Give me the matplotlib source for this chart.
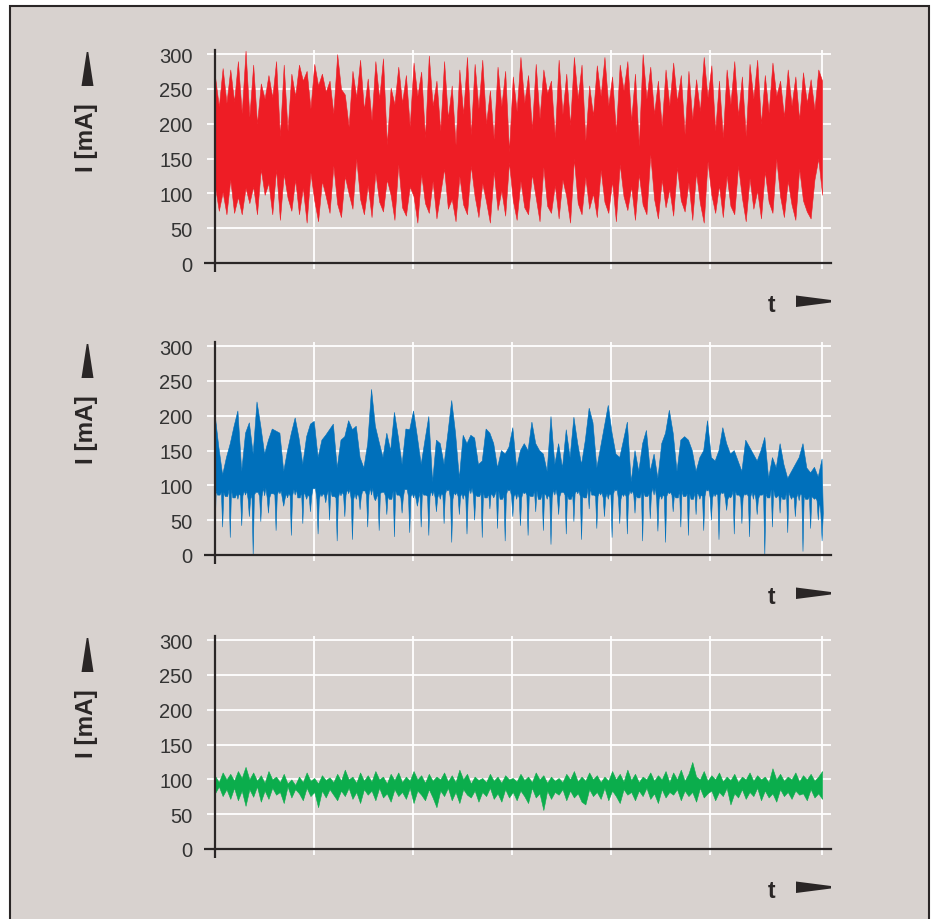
import numpy as np
import matplotlib
matplotlib.use("Agg")
import matplotlib.pyplot as plt
from matplotlib.patches import Polygon, Rectangle

# envelope values (mA), left to right
red_upper = [
    268, 225, 280, 230, 278, 232, 290, 215, 305, 210, 285, 200, 258, 236, 270, 238, 290, 182, 285, 190,
    272, 240, 285, 262, 276, 222, 286, 255, 272, 246, 262, 215, 300, 250, 242, 196, 276, 238, 292, 220,
    265, 205, 290, 236, 294, 170, 252, 228, 282, 230, 270, 196, 288, 240, 275, 180, 298, 226, 262, 190,
    290, 208, 255, 170, 278, 214, 296, 184, 286, 222, 292, 200, 248, 178, 282, 225, 276, 160, 268, 218,
    296, 230, 270, 192, 286, 208, 278, 244, 262, 180, 292, 214, 272, 198, 296, 236, 285, 176, 255, 212,
    284, 240, 296, 226, 268, 188, 285, 248, 290, 204, 272, 168, 300, 236, 282, 214, 262, 196, 278, 226,
    288, 232, 270, 185, 276, 206, 264, 218, 296, 238, 284, 190, 262, 180, 278, 228, 290, 212, 268, 182,
    286, 236, 292, 200, 270, 216, 288, 240, 262, 210, 278, 226, 268, 206, 274, 230, 264, 220, 278, 262,
]
red_lower = [
    110, 75, 102, 70, 120, 72, 95, 70, 108, 86, 110, 70, 135, 98, 115, 70, 135, 62, 128, 94,
    75, 120, 70, 108, 58, 130, 90, 60, 118, 96, 72, 140, 85, 66, 125, 100, 78, 150, 92, 70,
    112, 66, 130, 88, 74, 120, 98, 62, 142, 80, 68, 110, 96, 58, 128, 86, 72, 118, 64, 100,
    136, 78, 92, 60, 125, 84, 70, 140, 96, 66, 115, 88, 58, 132, 76, 104, 68, 145, 90, 62,
    118, 80, 70, 128, 94, 60, 138, 82, 72, 112, 64, 120, 96, 58, 150, 86, 70, 124, 78, 100,
    66, 134, 88, 72, 118, 60, 142, 96, 76, 110, 62, 128, 84, 70, 156, 92, 64, 120, 80, 106,
    68, 138, 90, 74, 116, 62, 130, 86, 58, 146, 98, 72, 112, 66, 126, 82, 70, 140, 94, 60,
    122, 78, 104, 64, 132, 88, 72, 150, 96, 66, 118, 84, 62, 136, 90, 74, 64, 120, 150, 98,
]

blue_upper = [
    203, 155, 115, 140, 160, 185, 207, 120, 175, 190, 145, 220, 185, 145, 165, 181, 178, 175, 120, 150,
    175, 197, 168, 130, 170, 188, 192, 140, 165, 172, 180, 188, 125, 165, 170, 193, 180, 185, 140, 125,
    160, 238, 185, 162, 140, 175, 150, 205, 170, 130, 181, 180, 207, 170, 130, 165, 199, 105, 165, 160,
    130, 175, 222, 175, 110, 172, 160, 172, 168, 130, 135, 181, 175, 160, 125, 150, 145, 155, 183, 125,
    150, 160, 150, 191, 160, 150, 145, 120, 199, 130, 160, 125, 180, 140, 198, 160, 130, 165, 211, 190,
    125, 155, 185, 215, 175, 145, 140, 165, 191, 105, 150, 120, 160, 179, 120, 145, 110, 160, 175, 208,
    175, 120, 165, 170, 165, 150, 120, 140, 150, 193, 140, 135, 150, 183, 160, 145, 150, 135, 120, 165,
    155, 145, 135, 150, 169, 110, 140, 125, 160, 130, 110, 120, 130, 140, 160, 125, 118, 126, 112, 138,
]
# lower edge of the solid blue band
blue_body = [
    92, 86, 90, 84, 94, 82, 88, 85, 92, 80, 86, 90, 84, 96, 82, 88, 86, 92, 80, 88,
    85, 94, 82, 90, 86, 84, 96, 80, 88, 86, 92, 84, 82, 90, 86, 94, 80, 88, 84, 92,
    86, 96, 82, 88, 90, 84, 80, 92, 86, 82, 94, 84, 88, 80, 90, 86, 84, 92, 82, 88,
    86, 94, 80, 90, 84, 88, 82, 96, 86, 84, 90, 82, 88, 86, 92, 80, 86, 94, 84, 88,
    82, 90, 86, 84, 92, 80, 88, 86, 82, 94, 84, 90, 86, 80, 88, 92, 84, 82, 96, 86,
    84, 90, 82, 88, 86, 94, 80, 88, 84, 92, 86, 82, 90, 84, 88, 96, 80, 86, 84, 90,
    86, 82, 92, 84, 88, 80, 90, 86, 84, 94, 82, 88, 86, 90, 80, 84, 92, 86, 82, 88,
    84, 90, 80, 86, 88, 82, 94, 84, 86, 80, 90, 84, 82, 88, 86, 80, 84, 82, 78, 60,
]
# tips of the thin downward spikes
blue_lower = [
    30, 90, 40, 88, 25, 85, 80, 42, 86, 55, 0, 92, 48, 85, 60, 90, 35, 88, 70, 82,
    28, 86, 92, 45, 80, 62, 95, 30, 84, 75, 50, 90, 20, 85, 55, 88, 22, 80, 65, 92,
    40, 86, 78, 35, 90, 58, 84, 26, 88, 60, 95, 32, 82, 70, 40, 90, 28, 85, 62, 80,
    45, 92, 18, 86, 58, 80, 30, 88, 50, 84, 25, 90, 66, 82, 38, 86, 20, 92, 55, 80,
    42, 88, 28, 84, 62, 90, 35, 80, 15, 86, 58, 92, 30, 84, 48, 88, 22, 82, 66, 90,
    38, 86, 55, 80, 25, 92, 45, 84, 30, 88, 60, 82, 20, 90, 52, 86, 34, 80, 18, 88,
    62, 84, 40, 90, 28, 86, 58, 80, 35, 92, 50, 84, 22, 88, 64, 82, 30, 90, 45, 86,
    26, 80, 58, 88, 0, 84, 40, 82, 60, 86, 32, 80, 55, 78, 5, 84, 38, 80, 50, 20,
]

green_upper = [
    105, 96, 110, 100, 108, 98, 112, 102, 118, 100, 110, 98, 106, 95, 112, 100, 104, 96, 108, 94,
    100, 92, 104, 96, 110, 98, 102, 94, 106, 99, 103, 96, 108, 98, 114, 100, 104, 95, 110, 98,
    106, 97, 112, 100, 104, 94, 108, 99, 110, 96, 104, 98, 112, 100, 106, 95, 108, 98, 104, 100,
    110, 97, 106, 96, 114, 100, 108, 94, 104, 99, 102, 96, 108, 98, 104, 95, 106, 100, 102, 97,
    108, 99, 104, 96, 110, 100, 106, 95, 104, 98, 102, 96, 108, 100, 112, 97, 104, 98, 110, 100,
    106, 96, 104, 98, 112, 100, 108, 97, 114, 99, 108, 96, 104, 100, 110, 98, 106, 100, 112, 96,
    110, 100, 114, 98, 108, 125, 104, 100, 112, 98, 106, 100, 110, 97, 104, 99, 108, 96, 104, 100,
    110, 98, 106, 100, 104, 96, 116, 100, 108, 98, 104, 100, 110, 97, 106, 100, 108, 98, 104, 112,
]
green_lower = [
    80, 90, 76, 86, 72, 88, 70, 84, 62, 86, 75, 90, 68, 84, 72, 88, 78, 82, 66, 90,
    74, 86, 80, 70, 88, 76, 82, 60, 84, 74, 86, 78, 70, 84, 76, 88, 72, 82, 66, 86,
    78, 84, 70, 88, 74, 80, 68, 86, 76, 82, 72, 88, 66, 84, 78, 70, 86, 74, 60, 84,
    76, 88, 70, 82, 66, 86, 78, 74, 84, 68, 82, 76, 88, 72, 80, 68, 86, 74, 82, 70,
    84, 76, 66, 88, 74, 80, 56, 84, 72, 82, 78, 86, 70, 84, 74, 80, 68, 64, 86, 76,
    82, 72, 88, 70, 84, 76, 66, 86, 78, 82, 70, 84, 76, 88, 72, 80, 66, 86, 74, 82,
    78, 86, 70, 84, 76, 82, 68, 88, 74, 80, 84, 70, 82, 76, 88, 64, 80, 74, 86, 72,
    82, 76, 88, 70, 84, 74, 80, 68, 86, 76, 82, 72, 84, 78, 80, 70, 86, 74, 80, 72,
]

y_ticks = [0, 50, 100, 150, 200, 250, 300]
x_ticks = [1, 2, 3, 4, 5, 6.13]
t_end = 6.13

# (upper edge, lower edge of band, spike tips or None, colour)
series = [
    (red_upper, red_lower, None, "#ee1d25"),
    (blue_upper, blue_body, blue_lower, "#0070bb"),
    (green_upper, green_lower, None, "#0bad4c"),
]

BG = "#d8d2cf"
INK = "#2a2626"
W, H = 933, 920


def fx(px):
    return px / W


def fy(py):
    return 1 - py / H


def draw_band(ax, upper, body, tips, color):
    x = np.linspace(0, t_end, len(upper))
    if tips is None:
        ax.fill_between(x, body, upper, color=color, lw=0.4, zorder=3)
        return
    # narrow wedges hanging below the band
    d = (x[1] - x[0]) * 0.32
    body = np.asarray(body, float)
    tips = np.minimum(np.asarray(tips, float), body)
    lx = np.column_stack([x - d, x, x + d]).ravel()
    ly = np.column_stack([body, tips, body]).ravel()
    px = np.concatenate([x, lx[::-1]])
    py = np.concatenate([upper, ly[::-1]])
    ax.fill(px, py, color=color, lw=0.4, zorder=3)


fig = plt.figure(figsize=(W / 100, H / 100), dpi=100, facecolor="white")
fig.add_artist(Rectangle((fx(10), -0.05), fx(929) - fx(10), fy(7) + 0.05,
                         transform=fig.transFigure, facecolor=BG,
                         edgecolor=INK, lw=1.5, zorder=-5))

# (top of spine, zero line) in pixel rows
rows = [(51, 264), (343, 556), (637, 850)]

for (top, zero), (upper, lower, tips, color) in zip(rows, series):
    ax = fig.add_axes([fx(215), fy(zero), fx(831) - fx(215), (zero - top) / H])
    ax.set_facecolor("none")
    draw_band(ax, upper, lower, tips, color)

    ax.set_xlim(0, 6.22)
    ax.set_ylim(0, 306)
    ax.set_yticks(y_ticks)
    ax.set_xticks(x_ticks)
    ax.set_xticklabels([])
    ax.grid(True, color="white", lw=1.3)
    ax.set_axisbelow(True)
    ax.tick_params(axis="y", direction="out", length=6, width=1.3,
                   color="white", pad=10, labelsize=14.5, labelcolor="#333333")
    ax.tick_params(axis="x", direction="out", length=4.5, width=1.3, color="white")
    for lbl in ax.get_yticklabels():
        lbl.set_fontfamily("Liberation Sans")
    for side in ["top", "right"]:
        ax.spines[side].set_visible(False)
    for side in ["left", "bottom"]:
        ax.spines[side].set_color(INK)
        ax.spines[side].set_linewidth(1.6)
        ax.spines[side].set_zorder(5)
    # spine overhangs past the origin
    ax.plot([0, 0], [0, -0.04], transform=ax.get_xaxis_transform(),
            color=INK, lw=1.6, clip_on=False, zorder=6, solid_capstyle="butt")
    ax.plot([-0.018, 0], [0, 0], transform=ax.get_yaxis_transform(),
            color=INK, lw=1.6, clip_on=False, zorder=6, solid_capstyle="butt")

    # axis labels with wedge arrows
    fig.text(fx(87), fy(top + 87), "I [mA]", rotation=90, ha="center", va="center",
             fontsize=17.5, fontweight="bold", family="Liberation Sans", color=INK)
    fig.add_artist(Polygon([(fx(81.5), fy(top + 36)), (fx(93.5), fy(top + 36)),
                            (fx(88.3), fy(top + 2)), (fx(86.7), fy(top + 2))],
                           closed=True, transform=fig.transFigure, color=INK, lw=0))
    fig.text(fx(772), fy(zero + 48), "t", ha="center", va="baseline",
             fontsize=16.5, fontweight="bold", family="Liberation Sans", color=INK)
    fig.add_artist(Polygon([(fx(796), fy(zero + 32.5)), (fx(831), fy(zero + 37)),
                            (fx(831), fy(zero + 39.5)), (fx(796), fy(zero + 44))],
                           closed=True, transform=fig.transFigure, color=INK, lw=0))

fig.savefig("out.png", dpi=100)
